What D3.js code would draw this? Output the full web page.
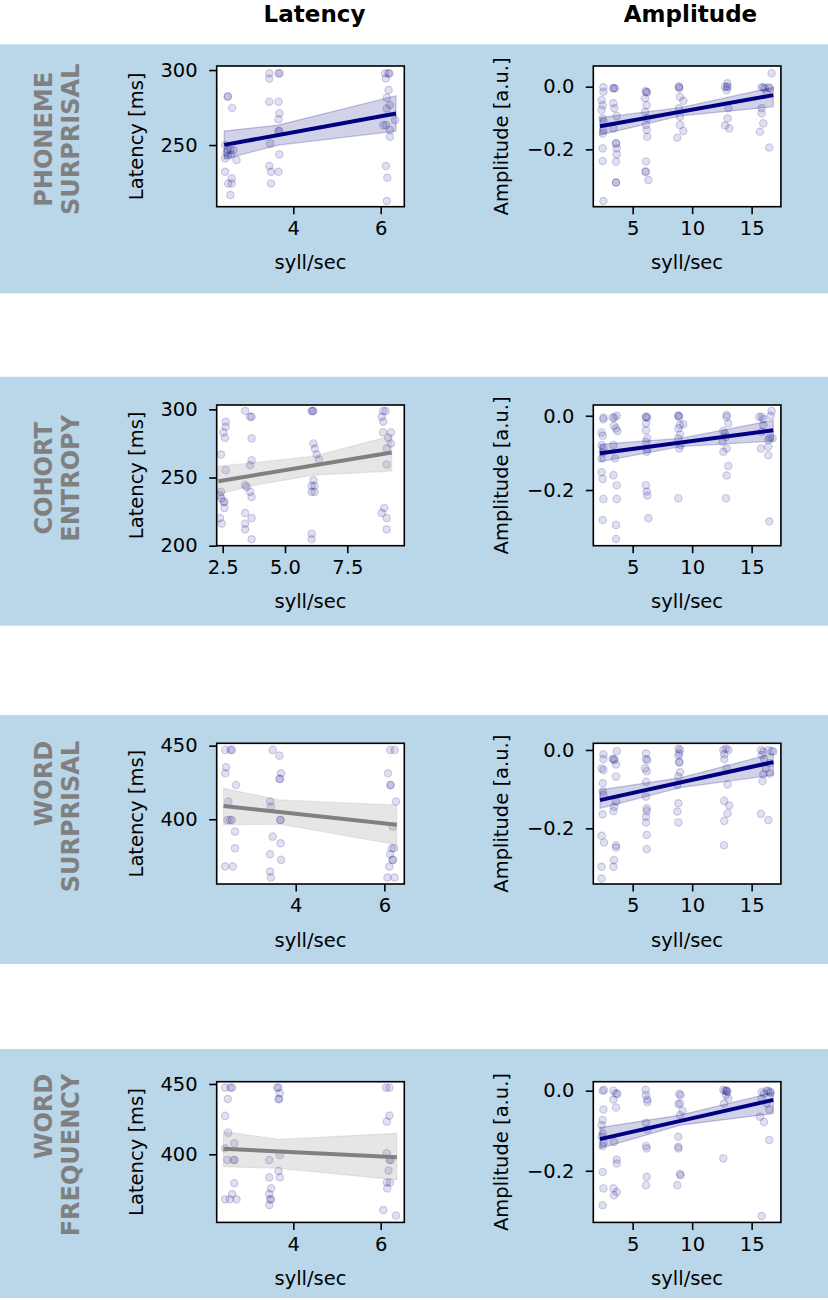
<!DOCTYPE html>
<html><head><meta charset="utf-8">
<script src="https://cdn.jsdelivr.net/npm/d3@7"></script>
<style>body{margin:0;background:#fff} svg{display:block} text{font-family:"DejaVu Sans",sans-serif}</style>
</head><body><svg id="c" width="828" height="1300"></svg>
<script>
// ---------- DATA ----------
const colTitles = ["Latency", "Amplitude"];
const rowLabels = [["PHONEME","SURPRISAL"],["COHORT","ENTROPY"],["WORD","SURPRISAL"],["WORD","FREQUENCY"]];
const rowLabelAlign = ["middle","middle","end","end"];
const xLabel = "syll/sec";
const yLabels = ["Latency [ms]", "Amplitude [a.u.]"];

// tick values
const latXTicks = [[4,6],[2.5,5.0,7.5],[4,6],[4,6]];
const latYTicks = [[250,300],[200,250,300],[400,450],[400,450]];
const ampXTicks = [5,10,15];
const ampYTicks = [-0.2,0.0];

// axis domains
const latXDomains = [[2.247,6.54],[2.259,9.787],[2.217,6.45],[2.247,6.54]];
const latYDomains = [[208.9,302.7],[200,303.2],[356,451.6],[351.6,451.6]];
const ampXDomain = [1.69,17.46];
const ampYDomains = [[-0.383,0.066],[-0.35,0.029],[-0.342,0.017],[-0.329,0.0225]];

// significance (navy = significant, gray = not)
const latSignificant = [true,false,false,false];
const ampSignificant = [true,true,true,true];

// scatter points [syll/sec, value]
const phonLatPts = [[2.50,282.4],[2.50,282.4],[2.60,274.9],[2.44,250],[2.50,246.7],[2.56,246.7],[2.63,246.7],[2.44,241.1],[2.70,240],[2.51,243],[2.47,245],[2.58,243.5],[2.44,232.2],[2.59,227.8],[2.51,224.4],[2.59,224.4],[2.56,216.7],
 [3.45,297.8],[3.45,294.4],[3.66,297.8],[3.69,297.8],[3.45,278.9],[3.66,278.9],[3.68,271.1],[3.66,267.1],[3.68,259.3],[3.66,259.3],[3.47,251.1],[3.68,243.8],[3.45,236],[3.49,232.2],[3.66,232.2],[3.49,224.4],
 [6.10,297.8],[6.18,297.8],[6.20,297.8],[6.12,294.4],[6.18,286.7],[6.14,281.6],[6.14,274.4],[6.21,276.7],[6.33,266.7],[6.06,263.3],[6.12,263.3],[6.21,260],[6.21,255.6],[6.12,236],[6.15,228.2],[6.14,212.7]];
const phonAmpPts = [[2.54,-0.002],[2.54,-0.016],[2.39,-0.043],[2.48,-0.059],[2.39,-0.074],[2.48,-0.101],[2.54,-0.112],[2.54,-0.138],[2.48,-0.149],[2.48,-0.197],[2.48,-0.237],[2.54,-0.365],
 [3.38,-0.005],[3.38,-0.005],[3.52,-0.005],[3.38,-0.053],[3.46,-0.069],[3.66,-0.094],[3.38,-0.133],[3.60,-0.181],[3.60,-0.181],[3.66,-0.197],[3.66,-0.216],[3.60,-0.239],[3.60,-0.306],[3.60,-0.306],
 [6.09,-0.014],[6.18,-0.018],[6.18,-0.018],[6.04,-0.037],[6.18,-0.059],[6.04,-0.080],[6.23,-0.101],[6.12,-0.122],[6.18,-0.138],[6.23,-0.160],[6.12,-0.239],[6.09,-0.271],[6.09,-0.271],[6.32,-0.298],
 [8.89,0],[8.89,0],[8.92,-0.005],[8.98,-0.032],[9.26,-0.045],[8.89,-0.069],[8.98,-0.096],[8.98,-0.122],[9.26,-0.141],[8.75,-0.163],
 [12.76,0],[12.96,0],[12.96,0],[12.96,0.011],[12.90,-0.011],[13.04,-0.069],[12.98,-0.101],[12.76,-0.124],[13.12,-0.133],
 [15.84,-0.002],[15.98,-0.002],[16.12,-0.005],[16.40,-0.002],[16.54,-0.005],[16.68,0.043],[16.26,-0.021],[15.84,-0.069],[15.84,-0.085],[15.98,-0.117],[15.70,-0.144],[16.48,-0.194]];
const cohLatPts = [[2.62,290.9],[2.62,287.3],[2.53,283.1],[2.59,279.2],[2.43,266.9],[2.62,255.4],[2.43,239.5],[2.39,237],[2.46,234.6],[2.57,232.1],[2.53,232.1],[2.57,227.7],[2.39,220.3],[2.46,216.2],
 [3.40,298.8],[3.60,294.6],[3.66,294.6],[3.66,278.7],[3.66,262.7],[3.60,259.1],[3.40,244.4],[3.46,243.1],[3.60,239.5],[3.66,235.8],[3.40,224],[3.66,220.3],[3.40,216.2],[3.40,212],[3.66,204.7],
 [6.07,298.8],[6.14,298.8],[6.10,298.8],[6.14,275],[6.20,271.3],[6.27,266.9],[6.36,263.2],[6.14,248],[6.07,243.9],[6.18,243.9],[6.07,239.5],[6.18,239.5],[6.07,208.8],[6.07,204.7],
 [8.94,298.8],[9.04,298.8],[8.88,294.6],[8.94,290.9],[8.94,283.1],[9.25,283.1],[9.14,279.2],[9.25,275],[9.08,271.3],[9.08,259.6],[8.98,227.7],[8.88,224],[9.08,220.3],[9.08,212]];
const cohAmpPts = [[2.54,-0.005],[2.54,-0.009],[2.39,-0.045],[2.48,-0.054],[2.39,-0.079],[2.54,-0.088],[2.48,-0.099],[2.39,-0.115],[2.39,-0.152],[2.48,-0.170],[2.54,-0.224],[2.48,-0.281],
 [3.32,-0.005],[3.46,-0.005],[3.66,0],[3.43,-0.027],[3.60,-0.034],[3.71,-0.041],[3.38,-0.079],[3.52,-0.115],[3.38,-0.160],[3.66,-0.187],[3.66,-0.224],[3.60,-0.294],[3.60,-0.332],
 [6.12,-0.003],[6.12,-0.003],[6.23,-0.005],[6.12,-0.021],[6.12,-0.039],[6.23,-0.061],[6.12,-0.070],[6.23,-0.090],[6.18,-0.097],[6.12,-0.187],[6.18,-0.204],[6.23,-0.215],[6.32,-0.276],
 [8.84,0],[8.84,0],[8.92,-0.003],[8.98,-0.025],[9.26,-0.023],[8.84,-0.034],[8.98,-0.050],[8.84,-0.061],[9.03,-0.079],[8.92,-0.088],[8.84,-0.222],
 [12.90,0.002],[12.90,-0.003],[13.04,-0.021],[12.62,-0.041],[12.76,-0.048],[12.84,-0.057],[12.56,-0.070],[12.90,-0.088],[12.62,-0.097],[13.04,-0.135],[12.90,-0.161],[12.84,-0.222],
 [15.64,-0.003],[15.84,-0.003],[15.98,-0.009],[16.68,0.013],[16.60,0],[15.98,-0.025],[15.84,-0.043],[16.54,-0.059],[16.76,-0.061],[16.40,-0.065],[16.40,-0.083],[15.78,-0.088],[16.40,-0.106],[16.48,-0.285]];
const wsLatPts = [[2.41,447.1],[2.53,447.1],[2.56,447.1],[2.43,435.3],[2.41,431.2],[2.65,423.3],[2.48,412],[2.46,399.5],[2.52,399.5],[2.56,399.5],[2.63,391.6],[2.63,380.3],[2.41,367.9],[2.58,367.9],
 [3.48,447.1],[3.63,443.2],[3.67,431.2],[3.65,427.4],[3.63,427.4],[3.42,412],[3.44,408.6],[3.66,399.5],[3.65,399.5],[3.48,388.2],[3.66,383.7],[3.42,376.2],[3.67,372.4],[3.42,364.5],[3.44,360.4],
 [6.13,447.1],[6.23,447.1],[6.08,431.2],[6.14,423.3],[6.14,423.3],[6.26,412],[6.19,395],[6.17,380.3],[6.22,380.3],[6.13,376.2],[6.19,372.4],[6.19,372.4],[6.11,367.9],[6.07,360.4],[6.23,360.4]];
const wsAmpPts = [[2.54,-0.011],[2.54,-0.023],[2.39,-0.047],[2.54,-0.051],[2.48,-0.085],[2.48,-0.106],[2.54,-0.115],[2.48,-0.164],[2.39,-0.219],[2.59,-0.236],[2.39,-0.298],[2.39,-0.328],
 [3.66,-0.003],[3.32,-0.023],[3.43,-0.023],[3.46,-0.026],[3.60,-0.037],[3.60,-0.068],[3.60,-0.132],[3.43,-0.145],[3.38,-0.156],[3.60,-0.243],[3.60,-0.249],[3.43,-0.281],[3.38,-0.298],
 [6.12,-0.009],[6.12,-0.023],[6.23,-0.026],[6.04,-0.047],[6.18,-0.054],[6.12,-0.081],[6.12,-0.119],[6.18,-0.149],[6.18,-0.156],[6.12,-0.170],[6.12,-0.185],[6.18,-0.217],[6.18,-0.253],
 [8.84,0.003],[8.98,0],[8.92,-0.009],[8.84,-0.014],[8.92,-0.031],[8.92,-0.031],[8.98,-0.057],[8.84,-0.068],[8.75,-0.089],[8.84,-0.136],[8.75,-0.157],[8.84,-0.185],
 [12.62,0],[12.84,0.003],[13.04,0],[12.70,-0.011],[12.70,-0.023],[12.90,-0.047],[12.98,-0.088],[12.70,-0.130],[13.12,-0.142],[12.98,-0.162],[12.70,-0.181],[12.67,-0.243],
 [15.78,0],[15.98,-0.004],[16.40,0],[16.68,-0.003],[16.82,-0.004],[15.84,-0.013],[16.04,-0.023],[16.54,-0.034],[16.20,-0.047],[15.98,-0.062],[16.54,-0.060],[15.92,-0.079],[15.78,-0.163],[16.40,-0.179]];
const wfLatPts = [[2.44,447.4],[2.56,447.4],[2.60,447.4],[2.50,439.3],[2.44,427.3],[2.51,415.4],[2.65,407.8],[2.44,404.3],[2.49,396],[2.63,396],[2.66,396],[2.65,379.4],[2.60,371.8],[2.44,368],[2.55,368],[2.70,368],
 [3.63,447.4],[3.66,447.4],[3.69,443.4],[3.66,439.3],[3.68,439.3],[3.69,399.5],[3.45,396],[3.66,388.2],[3.69,383.6],[3.45,383.6],[3.49,375.8],[3.45,371.8],[3.47,368],[3.49,368],[3.45,364],
 [6.12,447.4],[6.20,447.4],[6.20,427.5],[6.14,423.2],[6.14,400.7],[6.20,396],[6.23,396],[6.18,388.4],[6.14,379.9],[6.21,379.9],[6.15,375.8],[6.06,360.4],[6.35,356.4]];
const wfAmpPts = [[2.48,0],[2.59,0.002],[2.54,-0.047],[2.39,-0.086],[2.48,-0.073],[2.48,-0.107],[2.39,-0.115],[2.54,-0.130],[2.48,-0.138],[2.48,-0.203],[2.54,-0.244],[2.48,-0.286],
 [3.38,0],[3.60,-0.007],[3.71,-0.008],[3.38,-0.022],[3.60,-0.042],[3.43,-0.128],[3.66,-0.172],[3.66,-0.182],[3.38,-0.244],[3.43,-0.261],[3.66,-0.253],
 [6.09,0.002],[6.12,-0.011],[6.23,-0.022],[6.23,-0.028],[6.12,-0.080],[6.23,-0.097],[6.12,-0.138],[6.18,-0.144],[6.18,-0.215],[6.12,-0.236],
 [8.92,-0.008],[9.03,-0.011],[8.98,-0.032],[8.84,-0.033],[9.20,-0.050],[8.98,-0.061],[8.84,-0.115],[8.84,-0.140],[8.84,-0.144],[8.98,-0.208],[9.03,-0.211],[8.75,-0.236],
 [12.62,0.002],[12.76,0],[12.90,0],[12.90,0],[12.96,-0.003],[12.84,-0.011],[13.04,-0.019],[12.67,-0.032],[12.62,-0.169],
 [15.84,-0.003],[16.04,-0.007],[16.26,0],[16.40,0],[16.54,-0.003],[16.60,-0.005],[15.84,-0.019],[16.26,-0.032],[16.48,-0.047],[15.70,-0.065],[16.04,-0.078],[16.48,-0.123],[15.84,-0.313]];

// regression lines (endpoints) and confidence bands [x, lo, hi]
const phonLatFit = [[2.42,250.1],[6.35,271.0]];
const phonLatBand = [[2.42,240.7,259.3],[3.66,250.0,263.3],[6.35,259.3,282.9]];
const phonAmpFit = [[2.25,-0.126],[16.82,-0.027]];
const phonAmpBand = [[2.25,-0.154,-0.099],[9,-0.093,-0.067],[16.82,-0.064,-0.002]];
const cohLatFit = [[2.33,247.3],[9.28,268.4]];
const cohLatBand = [[2.33,237.5,258.3],[3.55,243.5,260.5],[6.14,251.7,265.7],[9.28,254.7,280.6]];
const cohAmpFit = [[2.25,-0.101],[16.82,-0.039]];
const cohAmpBand = [[2.25,-0.124,-0.077],[9,-0.083,-0.061],[16.82,-0.068,-0.012]];
const wsLatFit = [[2.37,409.0],[6.28,396.2]];
const wsLatBand = [[2.37,396.2,421.0],[3.65,396.6,413.1],[6.28,382.6,409.7]];
const wsAmpFit = [[2.25,-0.128],[16.82,-0.031]];
const wsAmpBand = [[2.25,-0.149,-0.102],[9,-0.096,-0.071],[16.82,-0.064,-0.009]];
const wfLatFit = [[2.40,404.0],[6.37,397.9]];
const wfLatBand = [[2.40,391.2,416.1],[3.66,390.0,410.7],[6.37,381.8,414.9]];
const wfAmpFit = [[2.25,-0.121],[16.82,-0.023]];
const wfAmpBand = [[2.25,-0.144,-0.092],[9,-0.086,-0.061],[16.82,-0.057,-0.005]];

// ---------- LAYOUT ----------
const svg = d3.select("#c");
const bandColor = "#bad6e9";
const navy = "#000080", gray = "#808080";
const colX = [216.7, 593.3], axW = 187.6, axH = 140.7;
const rowY = [66, 405, 743.3, 1081.7];
const bandY = [44.3, 376.7, 715, 1049], bandH = 249;
const tickFont = 19.5;

const latPts = [phonLatPts, cohLatPts, wsLatPts, wfLatPts];
const ampPts = [phonAmpPts, cohAmpPts, wsAmpPts, wfAmpPts];
const latFits = [phonLatFit, cohLatFit, wsLatFit, wfLatFit];
const ampFits = [phonAmpFit, cohAmpFit, wsAmpFit, wfAmpFit];
const latBands = [phonLatBand, cohLatBand, wsLatBand, wfLatBand];
const ampBands = [phonAmpBand, cohAmpBand, wsAmpBand, wfAmpBand];

// background bands
svg.selectAll("rect.band").data(bandY).join("rect").attr("class","band")
  .attr("x",0).attr("width",828).attr("y",d=>d).attr("height",bandH).attr("fill",bandColor);

// column titles
const titleX = [314.5, 690.5];
colTitles.forEach((t,i)=>{
  svg.append("text").attr("x",titleX[i]).attr("y",21.5).attr("text-anchor","middle")
    .attr("font-weight","bold").attr("font-size",23).attr("fill","#000").text(t);
});

let clipId = 0;
function panel(r, c, pts, fit, band, xDom, yDom, xTicks, yTicks, xFmt, yFmt, sig) {
  const x0 = colX[c], y0 = rowY[r];
  const x = d3.scaleLinear().domain(xDom).range([x0, x0+axW]);
  const y = d3.scaleLinear().domain(yDom).range([y0+axH, y0]);
  const g = svg.append("g");
  g.append("rect").attr("x",x0).attr("y",y0).attr("width",axW).attr("height",axH).attr("fill","#fff");
  const cid = "clip"+(clipId++);
  g.append("clipPath").attr("id",cid).append("rect").attr("x",x0).attr("y",y0).attr("width",axW).attr("height",axH);
  const inner = g.append("g").attr("clip-path",`url(#${cid})`);
  inner.selectAll("circle").data(pts).join("circle")
    .attr("cx",d=>x(d[0])).attr("cy",d=>y(d[1])).attr("r",3.7)
    .attr("fill",navy).attr("fill-opacity",0.12)
    .attr("stroke",navy).attr("stroke-opacity",0.17).attr("stroke-width",1.2);
  const col = sig ? navy : gray;
  inner.append("path").datum(band)
    .attr("d", d3.area().x(d=>x(d[0])).y0(d=>y(d[1])).y1(d=>y(d[2])))
    .attr("fill",col).attr("fill-opacity",sig?0.18:0.2)
    .attr("stroke",col).attr("stroke-opacity",sig?0.22:0.15).attr("stroke-width",1.2);
  inner.append("path").datum(fit)
    .attr("d", d3.line().x(d=>x(d[0])).y(d=>y(d[1])))
    .attr("fill","none").attr("stroke",col).attr("stroke-width",4);
  // axes
  const ax = g.append("g").attr("transform",`translate(0,${y0+axH})`)
    .call(d3.axisBottom(x).tickValues(xTicks).tickFormat(xFmt).tickSize(7.5).tickPadding(7));
  const ay = g.append("g").attr("transform",`translate(${x0},0)`)
    .call(d3.axisLeft(y).tickValues(yTicks).tickFormat(yFmt).tickSize(7.5).tickPadding(11.5));
  [ax, ay].forEach(a=>{
    a.select(".domain").remove();
    a.selectAll("line").attr("stroke","#000").attr("stroke-width",1.6);
    a.selectAll("text").attr("font-size",tickFont).attr("fill","#000").attr("font-family","DejaVu Sans");
  });
  g.append("rect").attr("x",x0).attr("y",y0).attr("width",axW).attr("height",axH)
    .attr("fill","none").attr("stroke","#000").attr("stroke-width",1.6);
  // labels
  g.append("text").attr("x",x0+axW/2).attr("y",y0+axH+62.5).attr("text-anchor","middle")
    .attr("font-size",19.5).attr("fill","#000").text(xLabel);
  const ylx = c===0 ? 142.5 : 508;
  g.append("text").attr("transform",`translate(${ylx},${y0+axH/2}) rotate(-90)`).attr("text-anchor","middle")
    .attr("font-size",19.5).attr("fill","#000").text(yLabels[c]);
}

const intFmt = d3.format("d");
for (let r=0;r<4;r++){
  const xf = r===1 ? d3.format(".1f") : intFmt;
  panel(r,0,latPts[r],latFits[r],latBands[r],latXDomains[r],latYDomains[r],latXTicks[r],latYTicks[r],xf,intFmt,latSignificant[r]);
  panel(r,1,ampPts[r],ampFits[r],ampBands[r],ampXDomain,ampYDomains[r],ampXTicks,ampYTicks,intFmt,d3.format(".1f"),ampSignificant[r]);
  // row labels
  const cy = rowY[r]+axH/2+3;
  const texts = rowLabels[r].map((t,i)=>
    svg.append("text").attr("font-weight","bold").attr("font-size",24).attr("fill",gray).text(t));
  const maxLen = d3.max(texts, t=>t.node().getComputedTextLength());
  texts.forEach((t,i)=>{
    const align = rowLabelAlign[r];
    const yy = align==="middle" ? cy : cy - maxLen/2;
    t.attr("text-anchor",align).attr("transform",`translate(${52+i*26.5},${yy}) rotate(-90)`);
  });
}
</script></body></html>
